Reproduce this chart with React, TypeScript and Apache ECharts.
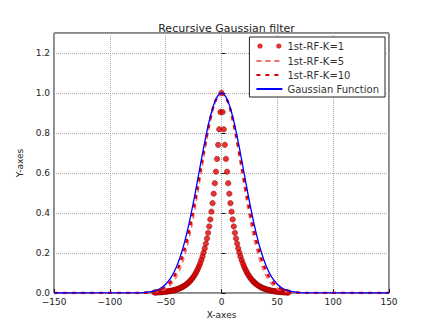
import React, { useEffect, useRef } from "react";
import * as echarts from "echarts";

const titleText = "Recursive Gaussian filter";
const xName = "X-axes";
const yName = "Y-axes";
const seriesNames = ["1st-RF-K=1", "1st-RF-K=5", "1st-RF-K=10", "Gaussian Function"];

// x positions for the smooth curves
const xLine = [-150, -75, -70, -65, -60, -55, -50, -45, -40, -35, -30, -25, -20, -15, -10, -5, 0,
  5, 10, 15, 20, 25, 30, 35, 40, 45, 50, 55, 60, 65, 70, 75, 150];

const gaussY = [0, 0.0009, 0.0022, 0.0051, 0.0111, 0.0228, 0.0439, 0.0796, 0.1353, 0.2163, 0.3247, 0.4578, 0.6065, 0.7548, 0.8825, 0.9692, 1.0,
  0.9692, 0.8825, 0.7548, 0.6065, 0.4578, 0.3247, 0.2163, 0.1353, 0.0796, 0.0439, 0.0228, 0.0111, 0.0051, 0.0022, 0.0009, 0];

const k10Y = [0, 0.0004, 0.0011, 0.0029, 0.0068, 0.0152, 0.0314, 0.0605, 0.109, 0.1833, 0.2875, 0.4208, 0.5747, 0.7323, 0.8707, 0.966, 0.995,
  0.966, 0.8707, 0.7323, 0.5747, 0.4208, 0.2875, 0.1833, 0.109, 0.0605, 0.0314, 0.0152, 0.0068, 0.0029, 0.0011, 0.0004, 0];

const k5Y = [0, 0.0002, 0.0005, 0.0015, 0.0039, 0.0094, 0.0211, 0.0439, 0.0847, 0.151, 0.2494, 0.3812, 0.5394, 0.7067, 0.857, 0.9621, 0.99,
  0.9621, 0.857, 0.7067, 0.5394, 0.3812, 0.2494, 0.151, 0.0847, 0.0439, 0.0211, 0.0094, 0.0039, 0.0015, 0.0005, 0.0002, 0];

// K=1 samples at integer x from -60 to 60
const k1Start = -60;
const k1Y = [
  0.0025, 0.0027, 0.0030, 0.0033, 0.0037, 0.0041, 0.0045, 0.0050, 0.0055, 0.0061,
  0.0067, 0.0074, 0.0082, 0.0091, 0.0101, 0.0111, 0.0123, 0.0136, 0.0150, 0.0166,
  0.0183, 0.0202, 0.0224, 0.0247, 0.0273, 0.0302, 0.0334, 0.0369, 0.0408, 0.0450,
  0.0498, 0.0550, 0.0608, 0.0672, 0.0743, 0.0821, 0.0907, 0.1003, 0.1108, 0.1225,
  0.1353, 0.1496, 0.1653, 0.1827, 0.2019, 0.2231, 0.2466, 0.2725, 0.3012, 0.3329,
  0.3679, 0.4066, 0.4493, 0.4966, 0.5488, 0.6065, 0.6703, 0.7408, 0.8187, 0.9048,
  1.0,
  0.9048, 0.8187, 0.7408, 0.6703, 0.6065, 0.5488, 0.4966, 0.4493, 0.4066, 0.3679,
  0.3329, 0.3012, 0.2725, 0.2466, 0.2231, 0.2019, 0.1827, 0.1653, 0.1496, 0.1353,
  0.1225, 0.1108, 0.1003, 0.0907, 0.0821, 0.0743, 0.0672, 0.0608, 0.0550, 0.0498,
  0.0450, 0.0408, 0.0369, 0.0334, 0.0302, 0.0273, 0.0247, 0.0224, 0.0202, 0.0183,
  0.0166, 0.0150, 0.0136, 0.0123, 0.0111, 0.0101, 0.0091, 0.0082, 0.0074, 0.0067,
  0.0061, 0.0055, 0.0050, 0.0045, 0.0041, 0.0037, 0.0033, 0.0030, 0.0027, 0.0025,
];

const FONT = "DejaVu Sans";
const TXT = "#222";

const dotsIcon =
  "path://M0,0L0,0M26,12L26,12M1,6a2.6,2.6 0 1,0 5.2,0a2.6,2.6 0 1,0 -5.2,0M19.8,6a2.6,2.6 0 1,0 5.2,0a2.6,2.6 0 1,0 -5.2,0";

export default function App() {
  const ref = useRef<HTMLDivElement>(null);
  useEffect(() => {
    if (!ref.current) return;
    const chart = echarts.init(ref.current, undefined, { renderer: "svg" });
    const pairs = (xs: number[], ys: number[]) => xs.map((x, i) => [x, ys[i]]);
    const k1Data = k1Y.map((y, i) => [k1Start + i, y]);
    const fmtMinus = (v: number) => String(v).replace("-", "\u2212");
    const noSym = { opacity: 0, borderWidth: 0 };
    chart.setOption({
      animation: false,
      backgroundColor: "#fff",
      title: {
        text: titleText,
        left: 221.5,
        textAlign: "center",
        top: 18,
        textStyle: { fontFamily: FONT, fontSize: 11, fontWeight: "normal", color: TXT },
      },
      grid: {
        left: 54,
        right: 43,
        top: 33,
        bottom: 34,
        show: true,
        borderColor: "#111",
        borderWidth: 1,
        containLabel: false,
      },
      legend: {
        orient: "vertical",
        right: 47,
        top: 37,
        itemGap: 4,
        itemWidth: 26,
        itemHeight: 12,
        padding: [3, 6, 3, 6],
        backgroundColor: "#fff",
        borderColor: "#222",
        borderWidth: 1,
        borderRadius: 0,
        textStyle: { fontFamily: FONT, fontSize: 10, color: "#333" },
        data: [
          { name: seriesNames[0], icon: dotsIcon, itemStyle: { borderWidth: 0, color: "#dd0000" } },
          { name: seriesNames[1], itemStyle: noSym },
          { name: seriesNames[2], itemStyle: noSym },
          { name: seriesNames[3], itemStyle: noSym },
        ],
      },
      xAxis: {
        type: "value",
        min: -150,
        max: 150,
        interval: 50,
        name: xName,
        nameLocation: "middle",
        nameGap: 13,
        nameTextStyle: { fontFamily: FONT, fontSize: 9, color: TXT },
        axisLine: { show: false },
        axisTick: { show: true, inside: true, length: 4, lineStyle: { color: "#111" } },
        axisLabel: { fontFamily: FONT, fontSize: 9, color: TXT, margin: 4, formatter: fmtMinus },
        splitLine: { show: true, lineStyle: { type: "dotted", color: "#aaa", width: 1 } },
      },
      yAxis: {
        type: "value",
        min: 0,
        max: 1.3,
        interval: 0.2,
        name: yName,
        nameLocation: "middle",
        nameGap: 24,
        nameRotate: 90,
        nameTextStyle: { fontFamily: FONT, fontSize: 9, color: TXT },
        axisLine: { show: false },
        axisTick: { show: true, inside: true, length: 4, lineStyle: { color: "#111" } },
        axisLabel: {
          fontFamily: FONT,
          fontSize: 9,
          color: TXT,
          margin: 4,
          showMaxLabel: false,
          formatter: (v: number) => (v > 1.25 ? "" : v.toFixed(1)),
        },
        splitLine: { show: true, lineStyle: { type: "dotted", color: "#aaa", width: 1 } },
      },
      series: [
        {
          name: seriesNames[0],
          type: "scatter",
          data: k1Data,
          symbol: "circle",
          symbolSize: 5.5,
          itemStyle: { color: "#e00000", borderColor: "#7a0000", borderWidth: 0.5 },
          z: 2,
        },
        {
          name: seriesNames[1],
          type: "line",
          data: pairs(xLine, k5Y),
          smooth: 0.35,
          symbol: "none",
          showSymbol: false,
          itemStyle: { color: "#ec7070" },
          lineStyle: { color: "#ec7070", width: 1.5, type: [5, 4] },
          z: 3,
        },
        {
          name: seriesNames[2],
          type: "line",
          data: pairs(xLine, k10Y),
          smooth: 0.35,
          symbol: "none",
          showSymbol: false,
          itemStyle: { color: "#dd0000" },
          lineStyle: { color: "#dd0000", width: 2.5, type: [4, 5] },
          z: 4,
        },
        {
          name: seriesNames[3],
          type: "line",
          data: pairs(xLine, gaussY),
          smooth: 0.35,
          symbol: "none",
          showSymbol: false,
          itemStyle: { color: "#0000ff" },
          lineStyle: { color: "#0000ff", width: 1.3 },
          z: 5,
        },
      ],
    });
    return () => chart.dispose();
  }, []);
  return <div ref={ref} style={{ width: 432, height: 327, position: "absolute", left: 0, top: 0 }} />;
}
